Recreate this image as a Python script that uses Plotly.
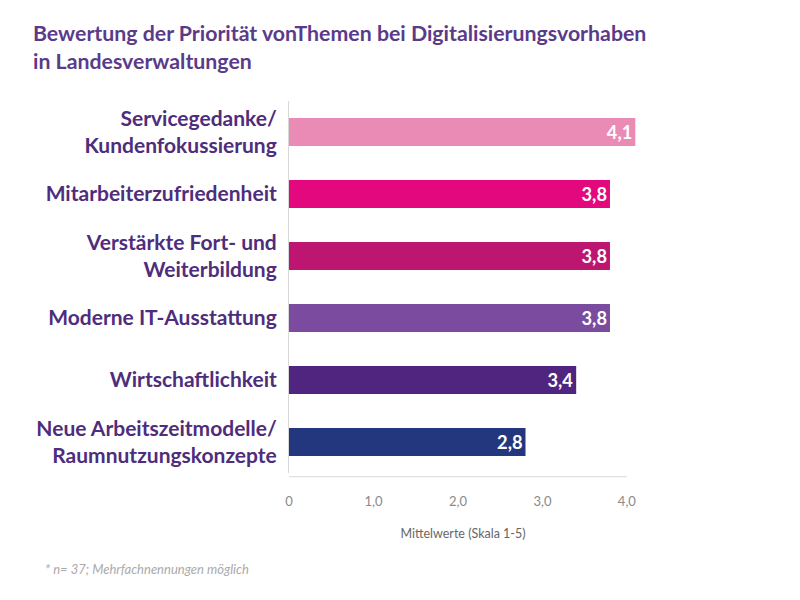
import plotly.graph_objects as go

# data
categories = ["Servicegedanke/<br>Kundenfokussierung", "Mitarbeiterzufriedenheit",
              "Verstärkte Fort- und<br>Weiterbildung", "Moderne IT-Ausstattung",
              "Wirtschaftlichkeit", "Neue Arbeitszeitmodelle/<br>Raumnutzungskonzepte"]
values = [4.1, 3.8, 3.8, 3.8, 3.4, 2.8]
bar_colors = ["#ea8bb6", "#e3087e", "#bd1670", "#7a4b9e", "#4f2580", "#23377f"]
tick_vals = [0, 1, 2, 3, 4]
tick_text = ["0", "1,0", "2,0", "3,0", "4,0"]

purple = "#4e2d7c"
# page has an 8px body margin, so the figure is a bit smaller
W, H = 792, 592
L, R, T, B = 281, 163, 93, 127

fig = go.Figure()
fig.add_trace(go.Bar(
    x=values, y=categories, orientation="h",
    marker=dict(color=bar_colors, line=dict(width=0)),
    width=0.45,
    text=[("%.1f" % v).replace(".", ",") for v in values],
    textposition="inside", insidetextanchor="end",
    textfont=dict(family="Lato", size=20, color="white", weight="bold"),
    cliponaxis=False,
))

fig.update_layout(
    width=W, height=H, template="none",
    paper_bgcolor="white", plot_bgcolor="white",
    margin=dict(l=L, r=R, t=T, b=B, autoexpand=False),
    showlegend=False,
    font=dict(family="Lato", color=purple),
    title=dict(text="<b>Bewertung der Priorität vonThemen bei Digitalisierungsvorhaben<br>in Landesverwaltungen</b>",
               x=25 / W, xanchor="left", y=1 - 33 / H, yanchor="top",
               pad=dict(l=0, t=0),
               font=dict(family="Lato", size=21.3, color="#5a3b8b")),
)
fig.update_yaxes(autorange="reversed", showgrid=False, zeroline=False, automargin=False,
                 showline=True, linecolor="#d8d8d8", linewidth=1,
                 ticks="outside", ticklen=7, tickcolor="rgba(0,0,0,0)",
                 tickfont=dict(family="Lato", size=21, color=purple, weight="bold"))
fig.update_xaxes(range=[0, 4.12], tickvals=tick_vals, ticktext=tick_text, automargin=False,
                 showgrid=False, zeroline=False, showline=False,
                 ticks="outside", ticklen=16, tickcolor="rgba(0,0,0,0)",
                 tickfont=dict(family="Lato", size=13, color="#8a8a8a"),
                 title=dict(text="Mittelwerte (Skala 1-5)", standoff=21,
                            font=dict(family="Lato", size=12.5, color="#666666")))
# x axis baseline up to 4,0
fig.add_shape(type="line", xref="x", yref="paper", x0=0, x1=4.0, y0=-0.01, y1=-0.01,
              line=dict(color="#d8d8d8", width=1))
fig.add_annotation(text="<i>* n= 37; Mehrfachnennungen möglich</i>", xref="paper", yref="paper",
                   x=(35 - L) / (W - L - R), y=-(561 - (H - B)) / (H - T - B),
                   xanchor="left", yanchor="middle", showarrow=False,
                   font=dict(family="Lato", size=13, color="#aaaaaa"))

fig.write_html("out.html")
